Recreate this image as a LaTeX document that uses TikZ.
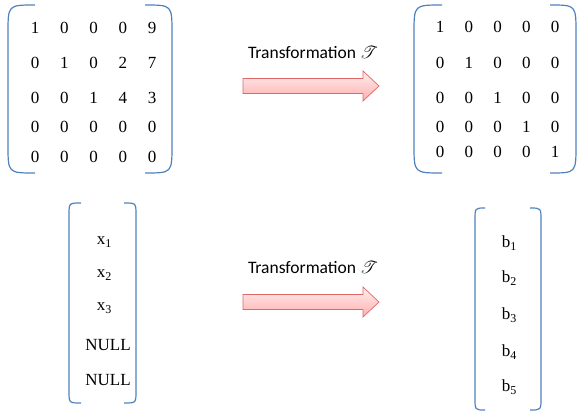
\documentclass[tikz,border=0pt]{standalone}
\usepackage{fontspec}
\setmainfont{Liberation Serif}
\newfontfamily\labelfont{Carlito}
\usepackage{mathrsfs}
\usetikzlibrary{calc}
\definecolor{brkblue}{RGB}{79,129,189}
\definecolor{arwred}{RGB}{222,104,104}
\newcommand\sub[1]{\raisebox{-0.45ex}{\fontsize{12}{12}\selectfont #1}}
% brackets: left x, left end, right end, right x, top, bottom, corner
\newcommand\brackets[7]{%
	\draw [brk](#2,#5) .. controls (#1,#5) .. (#1,#5+#7) -- (#1,#6-#7) .. controls (#1,#6) .. (#2,#6);
	\draw [brk](#3,#5) .. controls (#4,#5) .. (#4,#5+#7) -- (#4,#6-#7) .. controls (#4,#6) .. (#3,#6);
}
% block arrow centred on y
\newcommand\blockarrow[1]{%
	\draw [arw](243,#1-7.5) -- (363,#1-7.5) -- (363,#1-15) -- (379,#1) -- (363,#1+15) -- (363,#1+7.5) -- (243,#1+7.5) -- cycle;
}
\tikzset{
	brk/.style={draw=brkblue, line width=1.2pt},
	ent/.style={font=\fontsize{17}{17}\selectfont, inner sep=0pt},
	lbl/.style={font=\labelfont\fontsize{17.5}{17.5}\selectfont, inner sep=0pt},
	arw/.style={draw=arwred, line width=0.7pt, top color=red!6, bottom color=red!32}
}

\begin{document}
\begin{tikzpicture}[x=1pt,y=-1pt]
\useasboundingbox (0,0) rectangle (577,412);
% matrix before
\brackets{8}{35}{145}{172}{5}{173}{28}
\foreach \y/\row [count=\r] in {28/{1,0,0,0,9},63/{0,1,0,2,7},98/{0,0,1,4,3},127/{0,0,0,0,0},157/{0,0,0,0,0}} {
	\foreach \v [count=\c] in \row {
		\node [ent](A-\r-\c) at ({35+29.25*(\c-1)},\y) {\v};
	}
}
% matrix after
\brackets{414}{442}{550}{576}{5}{173}{28}
\foreach \y/\row [count=\r] in {27/{1,0,0,0,0},63/{0,1,0,0,0},98/{0,0,1,0,0},127/{0,0,0,1,0},152/{0,0,0,0,1}} {
	\foreach \v [count=\c] in \row {
		\node [ent](B-\r-\c) at ({440+28.75*(\c-1)},\y) {\v};
	}
}
% vectors
\brackets{69}{81}{124}{136}{203}{403}{12}
\foreach \y/\v [count=\r] in {242/x\sub{1},275/x\sub{2},308/x\sub{3}} {
	\node [ent](x-\r) at (104,\y) {\v};
}
\node [ent](x-4) at (108,345) {NULL};
\node [ent](x-5) at (108,380) {NULL};
\brackets{475}{485}{530}{541}{208}{410}{12}
\foreach \y [count=\r] in {243,278,315,352,387} {
	\node [ent](b-\r) at (509,\y) {b\sub{\r}};
}
% transformations
\node [lbl](t-top) at (313,53) {Transformation $\mathscr{T}$};
\blockarrow{86}
\node [lbl](t-bot) at (313,268) {Transformation $\mathscr{T}$};
\blockarrow{302}
\end{tikzpicture}
\end{document}
